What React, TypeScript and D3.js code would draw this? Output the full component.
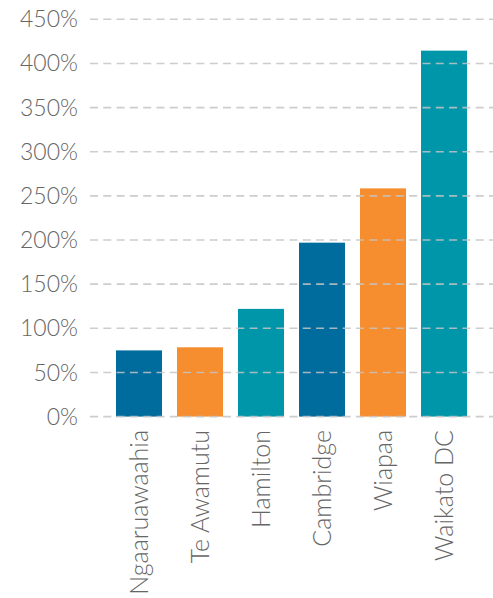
import React from "react";
import * as d3 from "d3";

const categories = ["Ngaaruawaahia", "Te Awamutu", "Hamilton", "Cambridge", "Wiapaa", "Waikato DC"];
const values = [75, 78.5, 122, 197, 258.5, 414.5];
const barColors = ["#006c9e", "#f68d2e", "#0096aa", "#006c9e", "#f68d2e", "#0096aa"];
const yTicks = [0, 50, 100, 150, 200, 250, 300, 350, 400, 450];

const W = 493;
const H = 598;
const FONT = "Lato, 'Open Sans', sans-serif";

export default function App() {
  const x = d3
    .scaleBand<string>()
    .domain(categories)
    .range([90, 493])
    .paddingInner(0.246)
    .paddingOuter(0.426);
  const y = d3.scaleLinear().domain([0, 450]).range([416.6, 19.3]);

  return (
    <svg
      width={W}
      height={H}
      style={{ position: "absolute", left: 0, top: 0, background: "#fff" }}
      fontFamily={FONT}
    >
      {categories.map((c, i) => (
        <rect
          key={c}
          x={x(c)}
          y={y(values[i])}
          width={x.bandwidth()}
          height={y(0) - y(values[i])}
          fill={barColors[i]}
        />
      ))}
      {yTicks.map((t) => (
        <g key={t}>
          <line
            x1={90}
            x2={W}
            y1={y(t)}
            y2={y(t)}
            stroke="#c4c4c4"
            strokeOpacity={0.85}
            strokeWidth={1.6}
            strokeDasharray="8 5.3"
          />
          <text
            x={78}
            y={y(t)}
            dy="0.35em"
            textAnchor="end"
            fontSize={23}
            fontWeight={300}
            fill="#666"
          >
            {t}%
          </text>
        </g>
      ))}
      {categories.map((c) => {
        const cx = (x(c) as number) + x.bandwidth() / 2;
        return (
          <text
            key={c}
            transform={`translate(${cx},430) rotate(-90)`}
            dy="0.35em"
            textAnchor="end"
            fontSize={25}
            fontWeight={300}
            fill="#666"
          >
            {c}
          </text>
        );
      })}
    </svg>
  );
}
